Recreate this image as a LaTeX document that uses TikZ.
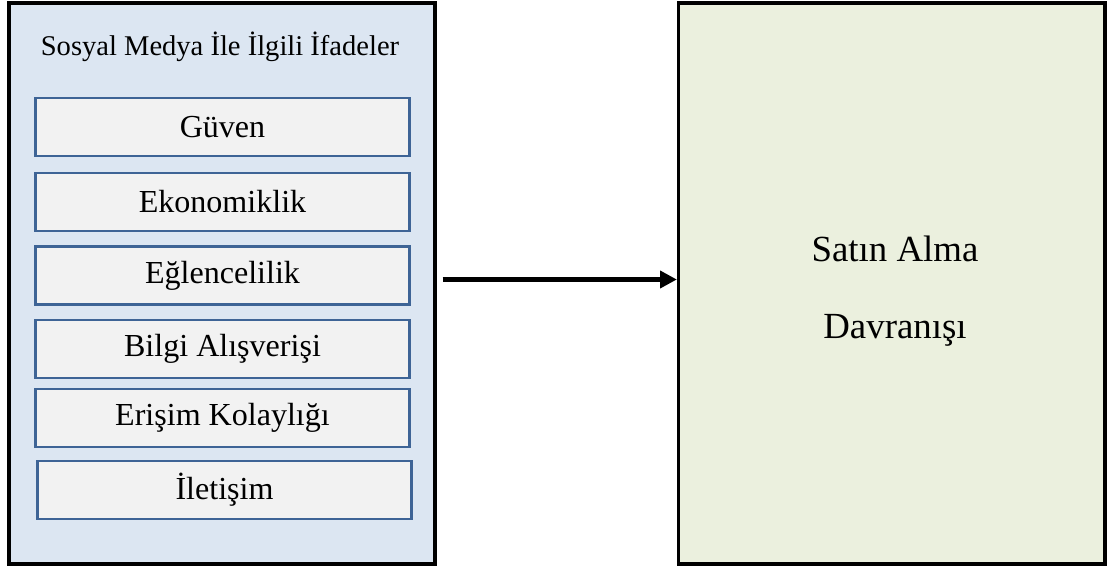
\documentclass[tikz,border=0pt]{standalone}
\usepackage{fontspec}
\setmainfont{Liberation Serif}
\usepackage{tikz}
\usetikzlibrary{arrows.meta,positioning}
\definecolor{grpfill}{RGB}{220,230,242}
\definecolor{itemfill}{RGB}{242,242,242}
\definecolor{itemline}{RGB}{62,100,150}
\definecolor{outfill}{RGB}{235,240,222}

\begin{document}
\begin{tikzpicture}[
  x=0.025cm,y=-0.025cm,
  grp/.style={draw=black,line width=2.3pt,minimum width=10.65cm,minimum height=14.025cm,inner sep=0pt},
  item/.style={draw=itemline,fill=itemfill,line width=2.1pt,minimum width=9.325cm,minimum height=1.45cm,inner sep=0pt,
    font=\fontsize{22.8}{27}\selectfont},
  ttl/.style={font=\fontsize{20.3}{24}\selectfont,anchor=base},
  arr/.style={line width=3pt,-{Triangle[length=12pt,width=12pt]}}]

\useasboundingbox[fill=white] (0,0) rectangle (1111,572);

% --- left group: the social media items ---
\node[grp,fill=grpfill] (smgrp) at (222,283.5) {};
\node[ttl] (smttl) at (220,55) {Sosyal Medya İle İlgili İfadeler};
\node[item] (guven) at (222.5,127)   {Güven};
\node[item] (ekon)  at (222.5,202)   {Ekonomiklik};
\node[item] (eglen) at (222.5,275.5) {Eğlencelilik};
\node[item] (bilgi) at (222.5,349)   {Bilgi Alışverişi};
\node[item] (erism) at (222.5,418)   {Erişim Kolaylığı};
\node[item] (ilet)  at (224.5,490)   {İletişim};

% --- right box: outcome ---
\node[grp,fill=outfill,minimum width=10.66cm] (satin) at (891.75,283.5) {};
\node[font=\fontsize{26.2}{54.8}\selectfont,align=center] (satintxt) at (895,291) {Satın Alma\\Davranışı};

\draw[arr] ([xshift=1.5mm,yshift=1mm]smgrp.east) -- ([yshift=1mm]smgrp.east -| satin.west);
\end{tikzpicture}
\end{document}
